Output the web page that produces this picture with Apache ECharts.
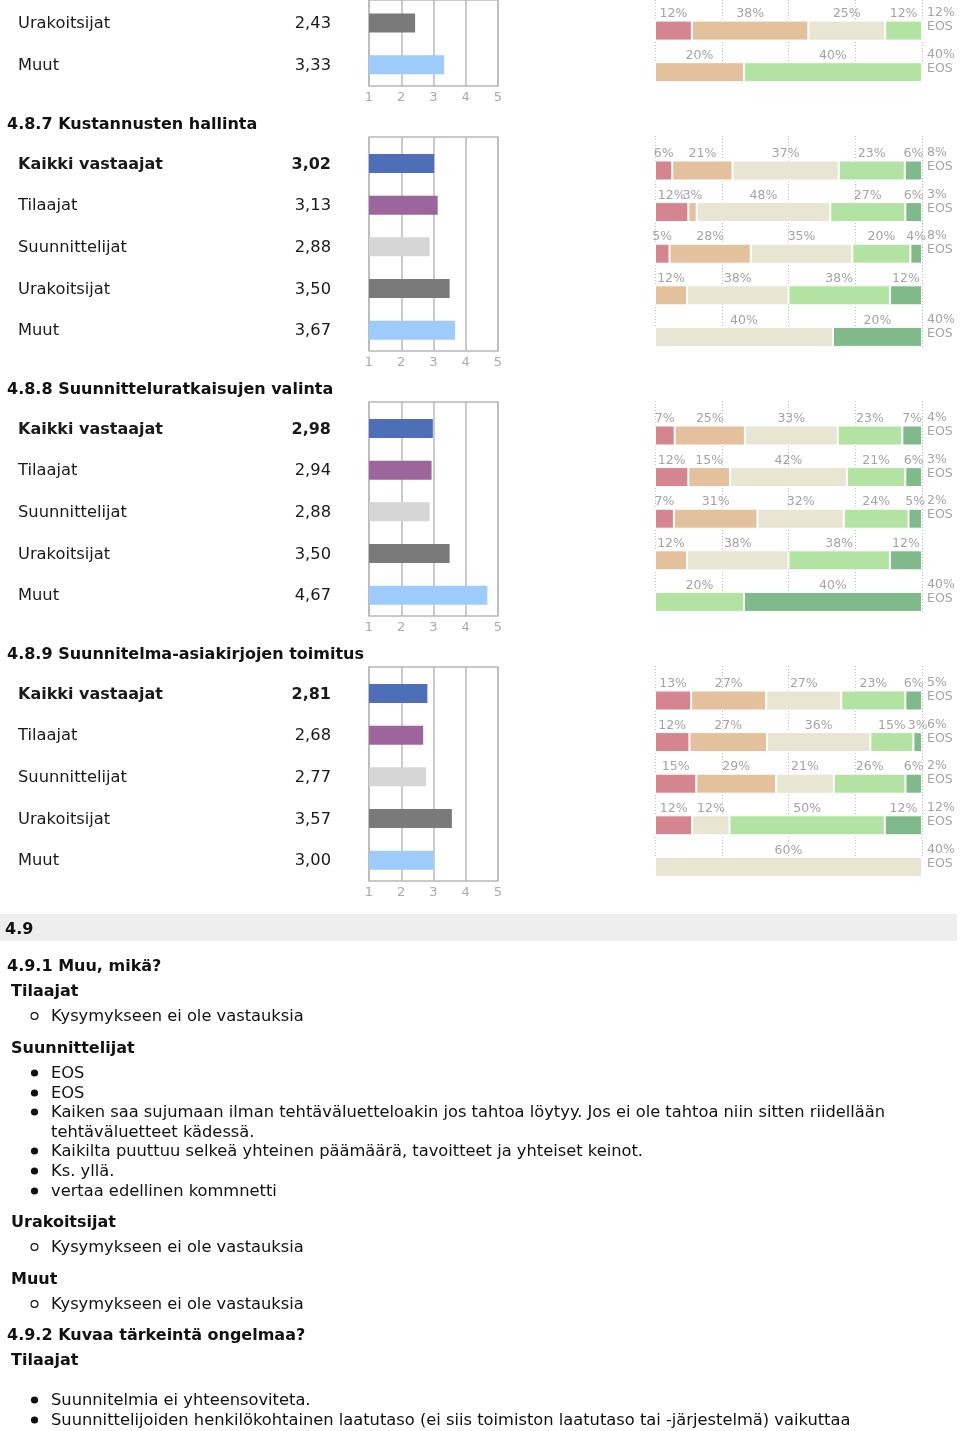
<!DOCTYPE html>
<html>
<head>
<meta charset="utf-8">
<script src="https://cdn.jsdelivr.net/npm/echarts@6/dist/echarts.min.js"></script>
<style>
html,body{margin:0;padding:0;background:#fff;}
#c{width:960px;height:1431px;}
</style>
</head>
<body>
<div id="c"></div>
<script>
// ---------- DATA ----------
const groupsFull = ['Kaikki vastaajat', 'Tilaajat', 'Suunnittelijat', 'Urakoitsijat', 'Muut'];
const groups486 = ['Urakoitsijat', 'Muut'];
const sectionTitles = ['4.8.7 Kustannusten hallinta', '4.8.8 Suunnitteluratkaisujen valinta', '4.8.9 Suunnitelma-asiakirjojen toimitus'];
const meanTicks = [1, 2, 3, 4, 5];

const mean486 = [2.43, 3.33];
const mean487 = [3.02, 3.13, 2.88, 3.50, 3.67];
const mean488 = [2.98, 2.94, 2.88, 3.50, 4.67];
const mean489 = [2.81, 2.68, 2.77, 3.57, 3.00];

// distribution per answer level 1..5 (percent), EOS separately
const dist486 = [[12, 38, 25, 12, 0], [0, 20, 0, 40, 0]];
const eos486 = [12, 40];
const dist487 = [[6, 21, 37, 23, 6], [12, 3, 48, 27, 6], [5, 28, 35, 20, 4], [0, 12, 38, 38, 12], [0, 0, 40, 0, 20]];
const eos487 = [8, 3, 8, 0, 40];
const dist488 = [[7, 25, 33, 23, 7], [12, 15, 42, 21, 6], [7, 31, 32, 24, 5], [0, 12, 38, 38, 12], [0, 0, 0, 20, 40]];
const eos488 = [4, 3, 2, 0, 40];
const dist489 = [[13, 27, 27, 23, 6], [12, 27, 36, 15, 3], [15, 29, 21, 26, 6], [12, 0, 12, 50, 12], [0, 0, 60, 0, 0]];
const eos489 = [5, 6, 2, 12, 40];

const heading49 = '4.9';
const q491 = '4.9.1 Muu, mikä?';
const q492 = '4.9.2 Kuvaa tärkeintä ongelmaa?';
const noAnswer = 'Kysymykseen ei ole vastauksia';
const suunnComments = [
  'EOS',
  'EOS',
  'Kaiken saa sujumaan ilman tehtäväluetteloakin jos tahtoa löytyy. Jos ei ole tahtoa niin sitten riidellään',
  'tehtäväluetteet kädessä.',
  'Kaikilta puuttuu selkeä yhteinen päämäärä, tavoitteet ja yhteiset keinot.',
  'Ks. yllä.',
  'vertaa edellinen kommnetti'
];
const tilaajat492 = [
  'Suunnitelmia ei yhteensoviteta.',
  'Suunnittelijoiden henkilökohtainen laatutaso (ei siis toimiston laatutaso tai -järjestelmä) vaikuttaa'
];

// ---------- STYLE / LAYOUT ----------
const FONT = 'DejaVu Sans';
const meanColors = {
  'Kaikki vastaajat': '#4e6fb8',
  'Tilaajat': '#9c669d',
  'Suunnittelijat': '#d6d6d6',
  'Urakoitsijat': '#7a7a7a',
  'Muut': '#9dcbfa'
};
const levelColors = ['#d4858f', '#e4c19d', '#e8e5d2', '#b2e3a3', '#80b98a'];
const LBL = '#a4a4a4';
const fmt = v => v.toFixed(2).replace('.', ',');

const grids = [], xAxes = [], yAxes = [], series = [];

function addSection(names, means, dist, eos, boldFirst, L) {
  // mean frame
  let g = grids.length;
  grids.push({left: 369, width: 129, top: L.mfTop, height: L.mfH, show: true, borderColor: '#b8b8b8', borderWidth: 1.5});
  xAxes.push({gridIndex: g, type: 'value', min: 1, max: 5, interval: 1,
    axisLine: {show: false}, axisTick: {show: false},
    splitLine: {show: true, lineStyle: {color: '#b8b8b8', width: 1.5}},
    axisLabel: {color: '#aaaaaa', fontSize: 13, fontFamily: FONT, margin: 5, formatter: v => String(meanTicks[v - 1])}});
  yAxes.push({gridIndex: g, type: 'value', min: 0, max: 1, show: false});

  // mean bars
  g = grids.length;
  grids.push({left: 369, width: 129, top: L.mbTop, height: L.mbH});
  const xi = xAxes.length;
  xAxes.push({gridIndex: g, type: 'value', min: 1, max: 5, show: false});
  const yi = yAxes.length;
  const base = {fontSize: 16.3, fontFamily: FONT, color: '#1a1a1a', padding: [2, 0, 0, 0]};
  const bbase = {fontSize: 16, fontFamily: FONT, color: '#1a1a1a', fontWeight: 'bold', padding: [2, 0, 0, 0]};
  yAxes.push({gridIndex: g, type: 'category', data: names, inverse: true,
    axisLine: {show: false}, axisTick: {show: false}, splitLine: {show: false},
    axisLabel: {margin: 38, interval: 0, showMinLabel: true, showMaxLabel: true,
      formatter: (val, idx) => (boldFirst && idx === 0)
        ? `{nb|${val}}{vb|${fmt(means[idx])}}`
        : `{n|${val}}{v|${fmt(means[idx])}}`,
      rich: {
        n: Object.assign({width: 273, align: 'left'}, base),
        v: Object.assign({width: 40, align: 'right'}, base),
        nb: Object.assign({width: 273, align: 'left'}, bbase),
        vb: Object.assign({width: 40, align: 'right'}, bbase)
      }}});
  series.push({type: 'bar', xAxisIndex: xi, yAxisIndex: yi, barWidth: 19, silent: true,
    data: means.map((m, i) => ({value: m, itemStyle: {color: meanColors[names[i]]}}))});

  // stack frame
  g = grids.length;
  grids.push({left: 655, width: 267, top: L.sfTop, height: L.sfH});
  xAxes.push({gridIndex: g, type: 'value', min: 0, max: 100, interval: 25,
    axisLine: {show: false}, axisTick: {show: false}, axisLabel: {show: false},
    splitLine: {show: true, lineStyle: {color: '#bdbdbd', width: 1, type: [1, 2]}}});
  yAxes.push({gridIndex: g, type: 'value', min: 0, max: 1, show: false});

  // stacked bars
  g = grids.length;
  grids.push({left: 655, width: 267, top: L.sbTop, height: L.sbH});
  const sx = xAxes.length;
  xAxes.push({gridIndex: g, type: 'value', min: 0, max: 100, show: false});
  const sy = yAxes.length;
  yAxes.push({gridIndex: g, type: 'category', data: names, inverse: true, show: false});
  yAxes.push({gridIndex: g, type: 'category', data: names, inverse: true, position: 'right',
    axisLine: {show: false}, axisTick: {show: false}, splitLine: {show: false},
    axisLabel: {margin: 5, align: 'left', interval: 0, showMinLabel: true, showMaxLabel: true,
      formatter: (val, idx) => eos[idx] ? `{a|${eos[idx]}%}\n{a|EOS}\n{s| }` : '',
      rich: {
        a: {color: LBL, fontSize: 12.5, fontFamily: FONT, lineHeight: 14},
        s: {fontSize: 10, lineHeight: 21}
      }}});
  const stackId = 'st' + g;
  for (let l = 0; l < 5; l++) {
    series.push({type: 'bar', stack: stackId, xAxisIndex: sx, yAxisIndex: sy, barWidth: 20, silent: true,
      itemStyle: {color: levelColors[l], borderColor: '#ffffff', borderWidth: 1},
      label: {show: true, position: 'top', distance: 0, color: LBL, fontSize: 12.5, fontFamily: FONT,
        formatter: p => p.data.raw ? p.data.raw + '%' : ''},
      data: dist.map(row => {
        const tot = row.reduce((a, b) => a + b, 0);
        return {value: row[l] / tot * 100, raw: row[l]};
      })});
  }
}

// partial section (4.8.6)
addSection(groups486, mean486, dist486, eos486, false,
  {mfTop: -20, mfH: 106, mbTop: 2.2, mbH: 83.4, sfTop: -20, sfH: 103, sbTop: 9.8, sbH: 83.2});
const secData = [[mean487, dist487, eos487], [mean488, dist488, eos488], [mean489, dist489, eos489]];
secData.forEach((d, k) => {
  const o = 265 * k;
  addSection(groupsFull, d[0], d[1], d[2], true,
    {mfTop: 137 + o, mfH: 214, mbTop: 142.6 + o, mbH: 208.5, sfTop: 136 + o, sfH: 212, sbTop: 149.7 + o, sbH: 208});
});

// ---------- TEXT GRAPHICS ----------
const graphics = [];
function txt(s, x, y, bold) {
  graphics.push({type: 'text', x: x, y: y + 2, silent: true,
    style: {text: s, fill: '#111111', fontSize: bold ? 16 : 16.3, fontFamily: FONT, fontWeight: bold ? 'bold' : 'normal',
      align: 'left', verticalAlign: 'middle'}});
}
function bullet(y, filled) {
  graphics.push({type: 'circle', silent: true, shape: {cx: 34.5, cy: y + 1, r: filled ? 3.6 : 3.4},
    style: filled ? {fill: '#111111'} : {fill: 'none', stroke: '#111111', lineWidth: 1.2}});
}
sectionTitles.forEach((t, k) => txt(t, 7, 123 + 265 * k, true));

graphics.push({type: 'rect', silent: true, shape: {x: 0, y: 914, width: 957, height: 27}, style: {fill: '#eeeeee'}});
txt(heading49, 5, 928, true);
txt(q491, 7, 965, true);
txt('Tilaajat', 11, 990, true);
bullet(1015, false); txt(noAnswer, 51, 1015, false);
txt('Suunnittelijat', 11, 1047, true);
const commentYs = [1072, 1092, 1111, 1131, 1150, 1170, 1190];
suunnComments.forEach((c, i) => {
  if (i !== 3) bullet(commentYs[i], true);
  txt(c, 51, commentYs[i], false);
});
txt('Urakoitsijat', 11, 1221, true);
bullet(1246, false); txt(noAnswer, 51, 1246, false);
txt('Muut', 11, 1278, true);
bullet(1303, false); txt(noAnswer, 51, 1303, false);
txt(q492, 7, 1334, true);
txt('Tilaajat', 11, 1359, true);
[1399, 1419].forEach((y, i) => { bullet(y, true); txt(tilaajat492[i], 51, y, false); });

const chart = echarts.init(document.getElementById('c'), null, {renderer: 'canvas'});
chart.setOption({
  animation: false,
  backgroundColor: '#ffffff',
  grid: grids,
  xAxis: xAxes,
  yAxis: yAxes,
  series: series,
  graphic: graphics
});
</script>
</body>
</html>
